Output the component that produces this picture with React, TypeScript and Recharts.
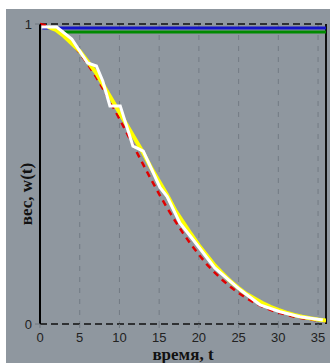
import React from 'react';
import { LineChart, Line, XAxis, YAxis, CartesianGrid, ReferenceLine } from 'recharts';

// smooth model curve (red dashed), one value per time unit 0..36
const modelTimes = [0, 1, 2, 3, 4, 5, 6, 7, 8, 9, 10, 11, 12, 13, 14, 15, 16, 17, 18, 19, 20, 21, 22, 23, 24, 25, 26, 27, 28, 29, 30, 31, 32, 33, 34, 35, 36];
const redValues = [1.0, 0.995, 0.982, 0.962, 0.936, 0.903, 0.867, 0.826, 0.781, 0.733, 0.684, 0.633, 0.582, 0.531, 0.481, 0.433, 0.387, 0.344, 0.303, 0.265, 0.231, 0.199, 0.171, 0.146, 0.123, 0.103, 0.086, 0.071, 0.058, 0.047, 0.038, 0.031, 0.024, 0.019, 0.015, 0.012, 0.01];

// yellow curve, starts a bit later
const yellowTimes = [1, 2, 3, 4, 5, 6, 7, 8, 9, 10, 11, 12, 13, 14, 15, 16, 17, 18, 19, 20, 21, 22, 23, 24, 25, 26, 27, 28, 29, 30, 31, 32, 33, 34, 35, 36];
const yellowValues = [0.99, 0.98, 0.96, 0.935, 0.91, 0.875, 0.84, 0.795, 0.75, 0.705, 0.66, 0.615, 0.57, 0.52, 0.475, 0.43, 0.38, 0.34, 0.3, 0.262, 0.228, 0.195, 0.168, 0.142, 0.12, 0.1, 0.085, 0.07, 0.057, 0.047, 0.038, 0.03, 0.024, 0.019, 0.015, 0.012];

// white simulated run (irregular steps)
const whiteTimes = [0.2, 2.1, 4.0, 6.0, 7.1, 7.9, 8.8, 10.1, 11.7, 13.0, 15.1, 16.0, 17.6, 19.3, 22.0, 25.2, 27.7, 30.2, 32.7, 35.6];
const whiteValues = [0.99, 0.99, 0.95, 0.87, 0.86, 0.81, 0.727, 0.727, 0.593, 0.576, 0.455, 0.425, 0.337, 0.28, 0.187, 0.114, 0.064, 0.041, 0.024, 0.013];

// flat levels
const blueTimes = [0.3, 36];
const blueValues = [0.987, 0.987];
const greenTimes = [3, 36];
const greenValues = [0.973, 0.973];

const xTicks = [0, 5, 10, 15, 20, 25, 30, 35];
const yTicks = [0, 1];

const toPoints = (ts: number[], vs: number[]) => ts.map((t, i) => ({ t, w: vs[i] }));

const redData = toPoints(modelTimes, redValues);
const yellowData = toPoints(yellowTimes, yellowValues);
const whiteData = toPoints(whiteTimes, whiteValues);
const blueData = toPoints(blueTimes, blueValues);
const greenData = toPoints(greenTimes, greenValues);

const labelFont = '"Liberation Serif", "Times New Roman", serif';
const tickFont = '"Liberation Sans", Arial, sans-serif';

const YLabel = () => (
  <text
    x={26}
    y={194}
    transform="rotate(-90 26 194)"
    textAnchor="middle"
    dominantBaseline="central"
    fontFamily={labelFont}
    fontWeight="bold"
    fontSize={17}
    fill="#111"
  >
    вес, w(t)
  </text>
);

export default function App() {
  return (
    <div style={{ position: 'fixed', left: 0, top: 0, width: 330, height: 363, background: '#fff' }}>
      <div style={{ position: 'absolute', left: 6, top: 9, width: 324, height: 354, background: '#8f979f' }} />
      <div style={{ position: 'absolute', left: 0, top: 0 }}>
        <LineChart width={330} height={363} margin={{ top: 24, right: 4, bottom: 0, left: 0 }}>
          <CartesianGrid horizontal={false} stroke="#737b84" strokeDasharray="5 6" />
          <XAxis
            dataKey="t"
            type="number"
            domain={[0, 36]}
            ticks={xTicks}
            allowDataOverflow
            height={39}
            axisLine={false}
            tickSize={4}
            tickMargin={5}
            tickLine={{ stroke: '#6f777f' }}
            tick={{ fill: '#222', fontSize: 13, fontFamily: tickFont }}
            label={{ value: 'время, t', position: 'insideBottom', offset: 3, fill: '#111', fontSize: 17, fontWeight: 'bold', fontFamily: labelFont }}
          />
          <YAxis
            dataKey="w"
            type="number"
            domain={[0, 1]}
            ticks={yTicks}
            width={40}
            axisLine={{ stroke: '#000', strokeWidth: 2 }}
            tickSize={5}
            tickMargin={3}
            tickLine={{ stroke: '#6f777f' }}
            tick={{ fill: '#222', fontSize: 13, fontFamily: tickFont }}
            label={{ content: YLabel }}
          />
          <ReferenceLine y={1} stroke="#111" strokeDasharray="7 4" strokeWidth={1.5} />
          <ReferenceLine y={0} stroke="#111" strokeDasharray="7 4" strokeWidth={1.5} />
          <ReferenceLine x={36} stroke="#111" strokeWidth={2} />
          <Line data={greenData} dataKey="w" stroke="#008a00" strokeWidth={3} dot={false} isAnimationActive={false} />
          <Line data={blueData} dataKey="w" stroke="#1414c8" strokeWidth={3} dot={false} isAnimationActive={false} />
          <Line data={redData} dataKey="w" stroke="#e00000" strokeWidth={2.5} strokeDasharray="6 5" dot={false} isAnimationActive={false} />
          <Line data={yellowData} dataKey="w" stroke="#ffff00" strokeWidth={4} dot={false} isAnimationActive={false} />
          <Line data={whiteData} dataKey="w" stroke="#ffffff" strokeWidth={3} dot={false} isAnimationActive={false} />
        </LineChart>
      </div>
    </div>
  );
}
